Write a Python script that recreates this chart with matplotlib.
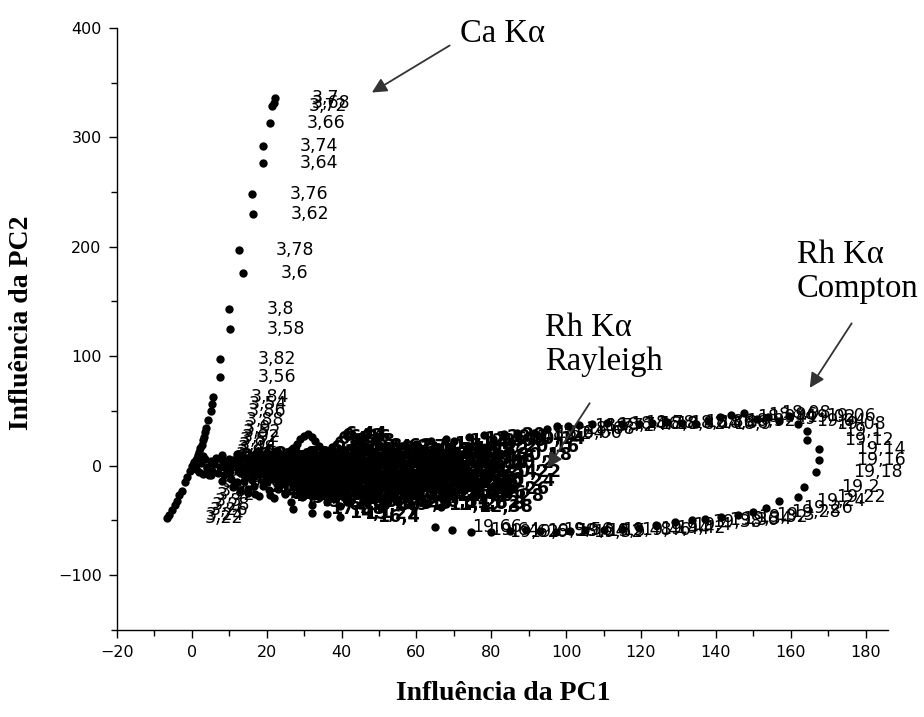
import matplotlib
matplotlib.use("Agg")
import matplotlib.pyplot as plt
from matplotlib.ticker import MultipleLocator

# channel energies (keV) and their loadings on PC1 / PC2

# Ca K-alpha region
ca_kev = [3.22, 3.24, 3.26, 3.28, 3.30, 3.32, 3.34, 3.36, 3.38, 3.40,
          3.42, 3.44, 3.46, 3.48, 3.50, 3.52, 3.54, 3.56, 3.58, 3.60,
          3.62, 3.64, 3.66, 3.68, 3.70, 3.72, 3.74, 3.76, 3.78, 3.80,
          3.82, 3.84, 3.86, 3.88, 3.90, 3.92, 3.94, 3.96, 3.98, 4.00]
ca_pc1 = [-6.7, -6.2, -5.3, -4.6, -4.0, -3.3, -2.7, -1.9, -1.2, -0.5,
          0.5, 1.1, 1.7, 2.3, 2.9, 3.6, 5.3, 7.5, 10.1, 13.6,
          16.3, 18.9, 20.8, 22.0, 22.1, 21.3, 18.9, 16.0, 12.5, 9.9,
          7.5, 5.6, 5.0, 4.4, 3.8, 3.2, 2.6, 2.0, 1.4, 0.8]
ca_pc2 = [-48, -45, -41, -36, -32, -27, -23, -15, -10, -5,
          2, 5, 10, 16, 23, 31, 56, 81, 125, 176,
          230, 277, 313, 331, 336, 329, 292, 248, 197, 143,
          97, 63, 50, 42, 34, 26, 19, 12, 7, 3]

# Rh K-alpha Compton loop
compton_kev = [18.62, 18.64, 18.66, 18.68, 18.70, 18.72, 18.74, 18.76, 18.78, 18.80,
               18.82, 18.84, 18.86, 18.88, 18.90, 18.92, 18.94, 18.96, 18.98, 19.00,
               19.02, 19.04, 19.06, 19.08, 19.10, 19.12, 19.14, 19.16, 19.18, 19.20,
               19.22, 19.24, 19.26, 19.28, 19.30, 19.32, 19.34, 19.36, 19.38, 19.40,
               19.42, 19.44, 19.46, 19.48, 19.50, 19.52, 19.54, 19.56, 19.58, 19.60,
               19.62, 19.64, 19.66]
compton_pc1 = [83.5, 87.0, 91.5, 95.0, 97.6, 100.5, 103.5, 107.0, 111.0, 115.0,
               119.5, 123.0, 127.0, 131.0, 134.7, 138.0, 141.0, 144.0, 147.5, 151.0,
               154.0, 156.8, 159.5, 162.0, 164.3, 164.3, 167.5, 167.5, 166.7, 163.5,
               162.0, 156.8, 153.3, 150.0, 146.0, 141.3, 137.0, 133.6, 129.0, 124.0,
               119.5, 115.0, 110.0, 105.0, 101.0, 97.3, 93.0, 89.3, 85.0, 80.0,
               74.7, 69.6, 65.0]
compton_pc2 = [29, 30, 30, 33, 36, 36, 37, 38, 39, 38,
               38, 39, 40, 39, 38, 41, 44, 46, 48, 43,
               44, 41, 45, 38, 32, 23, 15, 5, -6, -20,
               -29, -32, -39, -42, -45, -47, -49, -50, -52, -54,
               -57, -58, -59, -59, -60, -61, -60, -59, -60, -61,
               -61, -59, -56]

# Rh K-alpha Rayleigh
rayleigh_kev = [20.08, 20.10, 20.12, 20.14, 20.16, 20.18,
                20.20, 20.22, 20.24, 20.26, 20.28, 20.30]
rayleigh_pc1 = [70.0, 74.0, 78.0, 80.5, 79.0, 77.0, 75.5, 74.0, 72.5, 71.0, 69.5, 68.0]
rayleigh_pc2 = [22, 26, 28, 24, 17, 10, 2, -6, -14, -21, -28, -35]

# remaining channels below the Compton peak, packed near the origin
bg_kev = [1.50, 1.74, 2.02, 2.30, 2.62, 2.90, 3.04, 3.10, 3.14, 3.18,
          4.02, 4.06, 4.10, 4.14, 4.18, 4.22, 4.26, 4.30, 4.34, 4.38, 4.42,
          4.46, 4.50, 4.54, 4.58, 4.62, 4.66, 4.70, 4.74, 4.78, 4.82,
          4.86, 4.90, 4.94, 4.98, 5.02, 5.06, 5.10, 5.14, 5.18, 5.22,
          5.26, 5.30, 5.34, 5.38, 5.42, 5.46, 5.50, 5.54, 5.58, 5.62,
          5.66, 5.70, 5.74, 5.78, 5.82, 5.86, 5.90, 5.94, 5.98, 6.02,
          6.34, 6.36, 6.38, 6.40, 6.42, 6.44, 6.46, 6.48, 6.50, 6.52,
          6.62, 6.70, 6.78, 6.86, 6.94, 7.02, 7.10, 7.18, 7.26, 7.34,
          7.42, 7.50, 7.58, 7.66, 7.74, 7.82, 7.90, 7.98, 8.06, 8.14,
          8.22, 8.30, 8.38, 8.46, 8.54, 8.62, 8.70, 8.78, 8.86, 8.94,
          9.02, 9.10, 9.18, 9.26, 9.34, 9.42, 9.50, 9.58, 9.66, 9.74,
          9.82, 9.90, 9.98, 10.06, 10.14, 10.22, 10.30, 10.38, 10.46, 10.54,
          10.62, 10.70, 10.78, 10.86, 10.94, 11.02, 11.10, 11.18, 11.26, 11.34,
          11.42, 11.50, 11.58, 11.66, 11.74, 11.82, 11.90, 11.98, 12.06, 12.14,
          12.22, 12.30, 12.38, 12.46, 12.54, 12.62,
          14.10, 15.22, 16.40, 17.08]
bg_pc1 = [0.0, 0.5, 1.0, 1.5, 2.0, 2.5, 3.0, 3.5, 4.0, 4.5,
          5.0, 5.5, 6.0, 6.5, 7.0, 7.5, 8.0, 8.5, 9.0, 9.5, 10.0,
          10.5, 11.0, 11.5, 12.0, 12.5, 13.0, 13.5, 14.0, 14.5, 15.0,
          15.5, 16.0, 16.5, 17.0, 17.5, 18.0, 18.5, 19.0, 19.5, 20.0,
          20.5, 21.0, 21.5, 22.0, 22.5, 23.0, 23.5, 24.0, 24.5, 25.0,
          25.5, 26.0, 26.5, 27.0, 27.5, 28.0, 28.5, 29.0, 29.5, 30.0,
          26.0, 27.0, 28.0, 29.0, 30.0, 31.0, 32.0, 33.0, 34.0, 35.0,
          30.5, 31.0, 31.5, 32.0, 32.5, 33.0, 33.5, 34.0, 34.5, 35.0,
          35.5, 36.0, 36.5, 37.0, 37.5, 38.0, 38.5, 39.0, 39.5, 40.0,
          40.5, 41.0, 41.5, 42.0, 42.5, 43.0, 43.5, 44.0, 44.5, 45.0,
          45.5, 46.0, 46.5, 47.0, 47.5, 48.0, 48.5, 49.0, 49.5, 50.0,
          50.5, 51.0, 51.5, 52.0, 52.5, 53.0, 53.5, 54.0, 54.5, 55.0,
          55.5, 56.0, 56.5, 57.0, 57.5, 58.0, 58.5, 59.0, 59.5, 60.0,
          60.5, 61.0, 61.5, 62.0, 62.5, 63.0, 63.5, 64.0, 64.5, 65.0,
          65.5, 66.0, 66.5, 67.0, 67.5, 68.0,
          32.0, 36.0, 39.5, 27.0]
bg_pc2 = [0, 3, -3, 5, -6, 2, -8, 6, -2, -9,
          4, -5, 1, 7, -7, -1, 5, -9, 2, -4, 6,
          -12, 0, -18, 4, -6, -22, 7, -14, -3, -25,
          3, -10, -19, 6, -5, -28, 1, -15, 8, -8,
          -22, 3, -12, -30, 5, -2, -18, 7, -9, -26,
          2, -14, -33, 4, -6, -20, 8, -11, -29, 0,
          12, 16, 20, 24, 27, 29, 26, 22, 18, 13,
          -24, 10, -4, -36, 14, -16, 2, -28, -8, 12,
          -20, -33, 5, -12, 17, -30, -2, 9, -37, -22,
          14, -6, -33, 3, -15, 18, -26, -1, 10, -36,
          -10, 16, -20, 4, -31, -5, 12, -24, 0, 17,
          -14, -35, 7, -8, -27, 14, -3, -19, 9, -33,
          -11, 18, 1, -24, 11, -7, -36, 4, -16, 20,
          -28, -2, 13, -20, 6, -34, -10, 22, -25, 2,
          15, -15, -38, 8, -6, 24,
          -43, -44, -47, -40]

# channels above the Rayleigh peak, also close to the origin
bg2_kev = [20.52, 20.60, 20.68, 20.76, 20.84, 20.92, 21.00, 21.08, 21.16, 21.24,
           21.32, 21.40, 21.48,
           21.56, 21.64, 21.72, 21.80, 21.88, 21.96, 22.04, 22.12, 22.20, 22.28,
           22.36, 22.44, 22.52, 22.60, 22.68, 22.76,
           22.84, 22.92, 23.00, 23.08, 23.16, 23.24, 23.32, 23.40, 23.48, 23.56,
           23.64, 23.72, 23.80, 23.88, 23.96,
           24.04, 24.12, 24.20, 24.28, 24.36, 24.44, 24.52, 24.60, 24.68, 24.76,
           24.84, 24.92, 25.00, 25.08, 25.16,
           25.24, 25.32, 25.40, 25.48, 25.56, 25.64, 25.72, 25.80, 25.88, 25.96,
           26.04, 26.12, 26.20, 26.28, 26.36,
           26.44, 26.52, 26.60, 26.68, 26.76, 26.84, 26.92, 27.00, 27.08, 27.16,
           27.24, 27.32, 27.40, 27.48,
           27.56, 27.64, 27.72, 27.80, 27.88, 27.96, 28.04, 28.12, 28.20, 28.28,
           28.36, 28.44]
bg2_pc1 = [3, 8, 12, 16, 21, 25, 37, 41, 46, 50, 54, 58, 62,
           2, 6, 11, 15, 19, 23, 27, 32, 36, 40, 44, 48, 52, 56, 60, 64,
           4, 9, 13, 17, 21, 25, 29, 33, 37, 41, 45, 49, 53, 57, 61,
           5, 10, 14, 18, 22, 26, 30, 34, 38, 42, 46, 50, 54, 58, 62,
           8, 12, 16, 20, 24, 28, 32, 36, 40, 44, 48, 52, 56, 60, 64,
           11, 15, 19, 23, 27, 31, 35, 39, 43, 47, 51, 55, 59, 63,
           17, 21, 25, 29, 33, 37, 41, 45, 49, 53, 57, 61]
bg2_pc2 = [9, 10, 11, 9, 11, 10, 13, 11, 12, 10, 13, 11, 14,
           4, 3, 5, 4, 2, 4, 5, 3, 4, 6, 5, 3, 4, 6, 5, 3,
           -1, -2, -1, -3, -1, -3, -2, -1, -3, -2, -1, -3, -2, -1, -3,
           -9, -7, -9, -8, -7, -9, -8, -7, -9, -8, -7, -9, -8, -7, -9,
           -14, -15, -13, -15, -14, -13, -15, -14, -13, -15, -14, -13, -15, -14, -13,
           -20, -21, -19, -21, -20, -19, -21, -20, -19, -21, -20, -19, -21, -20,
           -26, -27, -25, -27, -26, -25, -27, -26, -25, -27, -26, -25]

SERIF = "Liberation Serif"


def kev_label(e):
    return f"{e:g}".replace(".", ",")


def draw_series(ax, kev, pc1, pc2, weight="normal"):
    ax.scatter(pc1, pc2, s=36, c="black", linewidths=0, zorder=3, clip_on=False)
    for e, x, y in zip(kev, pc1, pc2):
        ax.annotate(kev_label(e), (x, y), xytext=(27, 0), textcoords="offset points",
                    ha="left", va="center", color="black", annotation_clip=False,
                    family="DejaVu Sans", size=12.5, fontweight=weight)


fig = plt.figure(figsize=(9.24, 7.17), dpi=100)
ax = fig.add_axes([0.1266, 0.1218, 0.8344, 0.8392])

# the crowded channels overprint each other into a solid blob
draw_series(ax, bg2_kev, bg2_pc1, bg2_pc2, weight="bold")
draw_series(ax, bg_kev, bg_pc1, bg_pc2, weight="bold")
draw_series(ax, rayleigh_kev, rayleigh_pc1, rayleigh_pc2, weight="bold")
draw_series(ax, compton_kev, compton_pc1, compton_pc2)
draw_series(ax, ca_kev, ca_pc1, ca_pc2)

ax.set_xlim(-20, 186)
ax.set_ylim(-150, 400)
for side in ("top", "right"):
    ax.spines[side].set_visible(False)
for side in ("left", "bottom"):
    ax.spines[side].set_linewidth(1.0)
ax.xaxis.set_major_locator(MultipleLocator(20))
ax.xaxis.set_minor_locator(MultipleLocator(10))
ax.yaxis.set_major_locator(MultipleLocator(100))
ax.yaxis.set_minor_locator(MultipleLocator(50))
ax.tick_params(which="major", direction="out", length=6, width=1.0, pad=5,
               labelsize=11.5)
ax.tick_params(which="minor", direction="out", length=4, width=1.0)

ax.set_xlabel("Influência da PC1", family=SERIF, fontsize=20, fontweight="bold")
ax.set_ylabel("Influência da PC2", family=SERIF, fontsize=20, fontweight="bold")
ax.xaxis.set_label_coords(0.5006, -0.085)
ax.yaxis.set_label_coords(-0.108, 0.51)

# peak annotations
note_font = dict(family=SERIF, fontsize=23.5, color="black", linespacing=1.15)
arrow = dict(arrowstyle="-|>", color="#333333", lw=1.3, mutation_scale=22,
             shrinkA=0, shrinkB=0)
ax.text(71.6, 395, "Ca Kα", ha="left", va="center", **note_font)
ax.annotate("", xy=(48.1, 341), xytext=(68.9, 384), arrowprops=arrow)
ax.text(94.3, 110, "Rh Kα\nRayleigh", ha="left", va="center", **note_font)
ax.annotate("", xy=(95.1, -2), xytext=(106.3, 57), arrowprops=arrow)
ax.text(161.6, 177, "Rh Kα\nCompton", ha="left", va="center", **note_font)
ax.annotate("", xy=(165.1, 71), xytext=(176.3, 130), arrowprops=arrow)

fig.savefig("out.png", dpi=100)
